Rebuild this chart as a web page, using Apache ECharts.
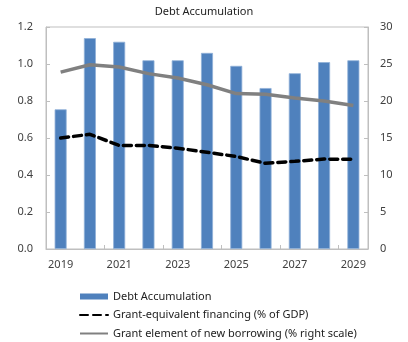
<!DOCTYPE html>
<html>
<head>
<meta charset="utf-8">
<script src="https://cdn.jsdelivr.net/npm/echarts@6/dist/echarts.min.js"></script>
<style>
  html, body { margin: 0; padding: 0; background: #fff; }
  #chart { width: 408px; height: 342px; }
</style>
</head>
<body>
<div id="chart"></div>
<script>
// Years on the category axis
const years = ['2019', '2020', '2021', '2022', '2023', '2024', '2025', '2026', '2027', '2028', '2029'];
// Bars, left axis
const debtAccumulation = [0.755, 1.14, 1.12, 1.02, 1.02, 1.06, 0.99, 0.87, 0.95, 1.01, 1.02];
// Dashed line, left axis (% of GDP)
const grantEquivalent = [0.60, 0.62, 0.56, 0.56, 0.545, 0.523, 0.50, 0.463, 0.474, 0.486, 0.485];
// Solid grey line, right axis (%)
const grantElement = [23.9, 24.9, 24.6, 23.7, 23.1, 22.2, 21.0, 20.9, 20.4, 20.0, 19.4];

const FONT = 'Noto Sans';
const TEXT = '#404040';
const AXIS = '#bfbfbf';

const chart = echarts.init(document.getElementById('chart'), null, { renderer: 'canvas' });
chart.setOption({
  animation: false,
  backgroundColor: '#fff',
  title: {
    text: 'Debt Accumulation',
    left: 'center',
    top: 1,
    textStyle: { fontFamily: FONT, fontSize: 11, fontWeight: 'normal', color: '#222' }
  },
  grid: {
    left: 46, right: 40, top: 27, bottom: 93,
    show: true, borderColor: AXIS, borderWidth: 1, containLabel: false
  },
  legend: {
    orient: 'vertical',
    left: 79,
    top: 291,
    padding: 0,
    itemWidth: 28,
    itemHeight: 6,
    itemGap: 7.5,
    textStyle: { fontFamily: FONT, fontSize: 11, color: '#222' },
    data: [
      { name: 'Debt Accumulation', icon: 'rect', itemStyle: { borderWidth: 0 } },
      { name: 'Grant-equivalent financing (% of GDP)', itemStyle: { opacity: 0 } },
      { name: 'Grant element of new borrowing (% right scale)', itemStyle: { opacity: 0 } }
    ]
  },
  xAxis: {
    type: 'category',
    data: years,
    boundaryGap: true,
    axisLine: { lineStyle: { color: AXIS } },
    axisTick: { show: true, inside: true, length: 4, interval: 1, lineStyle: { color: AXIS } },
    axisLabel: { interval: 1, fontFamily: FONT, fontSize: 11, color: TEXT, margin: 10 },
    splitLine: { show: false }
  },
  yAxis: [
    {
      type: 'value', min: 0, max: 1.2, interval: 0.2,
      axisLine: { show: true, lineStyle: { color: AXIS } },
      axisTick: { show: true, inside: true, length: 4, lineStyle: { color: AXIS } },
      axisLabel: { fontFamily: FONT, fontSize: 11, color: TEXT, margin: 13,
                   formatter: v => v.toFixed(1) },
      splitLine: { show: false }
    },
    {
      type: 'value', min: 0, max: 30, interval: 5,
      axisLine: { show: true, lineStyle: { color: AXIS } },
      axisTick: { show: true, inside: true, length: 4, lineStyle: { color: AXIS } },
      axisLabel: { fontFamily: FONT, fontSize: 11, color: TEXT, margin: 12 },
      splitLine: { show: false }
    }
  ],
  series: [
    {
      name: 'Debt Accumulation',
      type: 'bar',
      yAxisIndex: 0,
      data: debtAccumulation,
      barWidth: 12,
      itemStyle: { color: '#4f81bd', borderColor: '#8fb0d8', borderWidth: 0.8 }
    },
    {
      name: 'Grant-equivalent financing (% of GDP)',
      type: 'line',
      yAxisIndex: 0,
      data: grantEquivalent,
      symbol: 'none',
      z: 3,
      lineStyle: { color: '#000', width: 3.5, type: [8, 5], cap: 'round' },
      itemStyle: { color: '#000' }
    },
    {
      name: 'Grant element of new borrowing (% right scale)',
      type: 'line',
      yAxisIndex: 1,
      data: grantElement,
      symbol: 'none',
      z: 3,
      lineStyle: { color: '#808080', width: 3.5 },
      itemStyle: { color: '#808080' }
    }
  ]
});
</script>
</body>
</html>
